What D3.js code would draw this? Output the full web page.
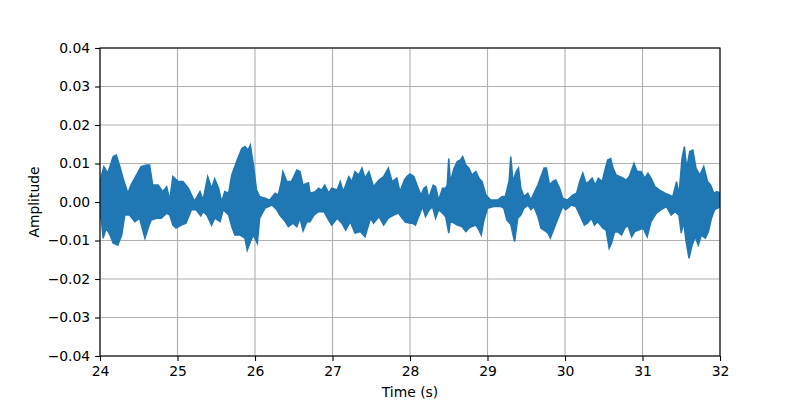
<!DOCTYPE html>
<html>
<head>
<meta charset="utf-8">
<script src="https://cdn.jsdelivr.net/npm/d3@7"></script>
<style>
  body { margin: 0; background: #fff; }
  text { font-family: "DejaVu Sans", sans-serif; }
</style>
</head>
<body>
<div id="chart"></div>
<script>
// envelope of the waveform: times (s) and amplitudes
var upperTime = [24.00, 24.02, 24.05, 24.10, 24.17, 24.21, 24.25, 24.30, 24.36, 24.40, 24.47, 24.53, 24.60, 24.64, 24.68, 24.75, 24.81, 24.86, 24.90, 24.94,
  25.01, 25.07, 25.14, 25.22, 25.29, 25.33, 25.39, 25.44, 25.48, 25.53, 25.57, 25.61, 25.66, 25.70, 25.74, 25.78, 25.83, 25.87, 25.91, 25.94, 25.98,
  26.02, 26.06, 26.13, 26.19, 26.26, 26.30, 26.34, 26.36, 26.41, 26.47, 26.54, 26.58, 26.62, 26.69, 26.71, 26.78, 26.82, 26.86, 26.90, 26.95, 26.99,
  27.06, 27.10, 27.14, 27.21, 27.25, 27.29, 27.34, 27.38, 27.42, 27.47, 27.53, 27.60, 27.66, 27.72, 27.77, 27.83, 27.87, 27.93, 27.96,
  28.00, 28.05, 28.09, 28.14, 28.18, 28.21, 28.24, 28.30, 28.33, 28.37, 28.42, 28.46, 28.48, 28.50, 28.52, 28.57, 28.61, 28.65, 28.68, 28.72, 28.76, 28.80, 28.85, 28.89, 28.93, 28.98,
  29.04, 29.13, 29.19, 29.23, 29.28, 29.30, 29.33, 29.37, 29.40, 29.43, 29.47, 29.52, 29.56, 29.60, 29.65, 29.69, 29.73, 29.76, 29.80, 29.84, 29.88, 29.93, 29.97,
  30.03, 30.10, 30.15, 30.19, 30.23, 30.27, 30.31, 30.35, 30.39, 30.43, 30.48, 30.51, 30.55, 30.59, 30.62, 30.66, 30.71, 30.75, 30.79, 30.83, 30.86, 30.89, 30.93, 30.98,
  31.03, 31.07, 31.11, 31.16, 31.22, 31.29, 31.35, 31.39, 31.44, 31.47, 31.51, 31.54, 31.57, 31.61, 31.65, 31.69, 31.74, 31.79, 31.84, 31.88, 31.92, 31.96, 32.00]
var upperAmp = [0.0050, 0.0070, 0.0092, 0.0075, 0.0118, 0.0122, 0.0096, 0.0060, 0.0023, 0.0044, 0.0070, 0.0092, 0.0096, 0.0096, 0.0044, 0.0044, 0.0027, 0.0040, 0.0005, 0.0066,
  0.0053, 0.0053, 0.0036, 0.0002, 0.0027, 0.0005, 0.0066, 0.0036, 0.0060, 0.0036, 0.0000, 0.0027, 0.0023, 0.0070, 0.0092, 0.0114, 0.0139, 0.0144, 0.0135, 0.0148, 0.0096,
  0.0031, 0.0014, 0.0010, 0.0005, 0.0023, 0.0018, 0.0053, 0.0079, 0.0053, 0.0053, 0.0083, 0.0079, 0.0044, 0.0050, 0.0023, 0.0027, 0.0036, 0.0031, 0.0044, 0.0023, 0.0036,
  0.0031, 0.0053, 0.0027, 0.0066, 0.0053, 0.0079, 0.0070, 0.0088, 0.0062, 0.0079, 0.0040, 0.0057, 0.0066, 0.0088, 0.0053, 0.0062, 0.0027, 0.0058, 0.0066,
  0.0073, 0.0066, 0.0044, 0.0018, 0.0036, 0.0040, 0.0010, 0.0044, 0.0040, 0.0005, 0.0036, 0.0036, 0.0044, 0.0113, 0.0053, 0.0088, 0.0105, 0.0109, 0.0118, 0.0096, 0.0088, 0.0070, 0.0079, 0.0062, 0.0053, 0.0018,
  0.0005, 0.0005, 0.0014, 0.0014, 0.0057, 0.0118, 0.0053, 0.0079, 0.0088, 0.0036, 0.0014, 0.0023, 0.0005, 0.0023, 0.0044, 0.0066, 0.0088, 0.0088, 0.0044, 0.0053, 0.0057, 0.0036, 0.0010,
  0.0005, 0.0018, 0.0023, 0.0053, 0.0075, 0.0049, 0.0053, 0.0062, 0.0044, 0.0062, 0.0053, 0.0079, 0.0109, 0.0113, 0.0088, 0.0070, 0.0066, 0.0062, 0.0057, 0.0066, 0.0083, 0.0100, 0.0079, 0.0079,
  0.0062, 0.0075, 0.0062, 0.0040, 0.0031, 0.0023, 0.0018, 0.0014, 0.0053, 0.0018, 0.0113, 0.0144, 0.0088, 0.0131, 0.0135, 0.0088, 0.0070, 0.0092, 0.0053, 0.0044, 0.0023, 0.0027, 0.0023]

var lowerTime = [24.00, 24.02, 24.04, 24.08, 24.13, 24.17, 24.23, 24.28, 24.32, 24.38, 24.45, 24.51, 24.58, 24.62, 24.66, 24.73, 24.79, 24.86, 24.90, 24.94, 24.98,
  25.05, 25.11, 25.18, 25.24, 25.30, 25.33, 25.38, 25.44, 25.48, 25.55, 25.59, 25.66, 25.70, 25.74, 25.81, 25.87, 25.90, 25.94, 25.98,
  26.03, 26.06, 26.13, 26.22, 26.28, 26.32, 26.39, 26.43, 26.49, 26.54, 26.58, 26.62, 26.67, 26.71, 26.76, 26.82, 26.89, 26.95, 26.99,
  27.06, 27.12, 27.17, 27.23, 27.29, 27.36, 27.42, 27.49, 27.53, 27.60, 27.66, 27.72, 27.79, 27.85, 27.90, 27.94,
  28.00, 28.03, 28.07, 28.12, 28.16, 28.20, 28.25, 28.29, 28.33, 28.37, 28.42, 28.46, 28.50, 28.52, 28.57, 28.61, 28.67, 28.72, 28.76, 28.80, 28.85, 28.89, 28.92, 28.95,
  29.00, 29.08, 29.17, 29.21, 29.25, 29.30, 29.33, 29.35, 29.39, 29.43, 29.47, 29.52, 29.56, 29.60, 29.65, 29.69, 29.73, 29.78, 29.81, 29.86, 29.91, 29.97,
  30.01, 30.08, 30.14, 30.21, 30.25, 30.29, 30.34, 30.38, 30.42, 30.49, 30.53, 30.57, 30.60, 30.64, 30.68, 30.73, 30.77, 30.81, 30.86, 30.90, 30.95,
  31.01, 31.06, 31.11, 31.18, 31.24, 31.31, 31.37, 31.42, 31.47, 31.50, 31.53, 31.56, 31.60, 31.64, 31.68, 31.72, 31.76, 31.81, 31.85, 31.89, 31.93, 31.97, 32.00]
var lowerAmp = [-0.0030, -0.0051, -0.0094, -0.0068, -0.0086, -0.0107, -0.0112, -0.0086, -0.0034, -0.0034, -0.0051, -0.0042, -0.0094, -0.0068, -0.0047, -0.0042, -0.0042, -0.0029, -0.0034, -0.0060, -0.0068,
  -0.0060, -0.0055, -0.0020, -0.0020, -0.0036, -0.0025, -0.0034, -0.0060, -0.0042, -0.0051, -0.0020, -0.0034, -0.0064, -0.0086, -0.0086, -0.0094, -0.0125, -0.0103, -0.0086,
  -0.0107, -0.0042, -0.0016, -0.0008, -0.0020, -0.0034, -0.0051, -0.0064, -0.0055, -0.0064, -0.0042, -0.0075, -0.0051, -0.0051, -0.0034, -0.0025, -0.0025, -0.0047, -0.0060,
  -0.0042, -0.0055, -0.0073, -0.0051, -0.0081, -0.0077, -0.0090, -0.0042, -0.0055, -0.0038, -0.0060, -0.0042, -0.0034, -0.0029, -0.0042, -0.0052,
  -0.0055, -0.0055, -0.0060, -0.0034, -0.0012, -0.0038, -0.0020, -0.0012, -0.0042, -0.0020, -0.0029, -0.0038, -0.0081, -0.0051, -0.0055, -0.0060, -0.0064, -0.0077, -0.0068, -0.0064, -0.0060, -0.0073, -0.0086, -0.0051,
  -0.0016, -0.0012, -0.0012, -0.0016, -0.0047, -0.0058, -0.0086, -0.0103, -0.0042, -0.0034, -0.0016, -0.0008, -0.0020, -0.0012, -0.0038, -0.0068, -0.0073, -0.0081, -0.0094, -0.0068, -0.0042, -0.0012,
  -0.0020, -0.0008, -0.0012, -0.0042, -0.0060, -0.0055, -0.0042, -0.0060, -0.0051, -0.0068, -0.0073, -0.0120, -0.0107, -0.0078, -0.0077, -0.0086, -0.0068, -0.0060, -0.0090, -0.0077, -0.0073,
  -0.0068, -0.0090, -0.0051, -0.0029, -0.0020, -0.0012, -0.0034, -0.0025, -0.0034, -0.0081, -0.0051, -0.0099, -0.0146, -0.0112, -0.0090, -0.0112, -0.0086, -0.0094, -0.0077, -0.0042, -0.0020, -0.0016, -0.0012]

var xTicks = [24, 25, 26, 27, 28, 29, 30, 31, 32]
var yTicks = [-0.04, -0.03, -0.02, -0.01, 0.00, 0.01, 0.02, 0.03, 0.04]

var margin = { top: 48, left: 100, right: 80, bottom: 44 },
  width = 800 - margin.left - margin.right,
  height = 400 - margin.top - margin.bottom;

var svg = d3.select("#chart")
  .append("svg")
  .attr("width", 800)
  .attr("height", 400)
  .append("g")
  .attr("transform", "translate(" + margin.left + "," + margin.top + ")");

var x = d3.scaleLinear().domain([24, 32]).range([0, width]);
var y = d3.scaleLinear().domain([-0.04, 0.04]).range([height, 0]);

// grid
svg.append("g").selectAll("line")
  .data(xTicks).enter().append("line")
  .attr("x1", function(d) { return x(d) }).attr("x2", function(d) { return x(d) })
  .attr("y1", 0).attr("y2", height)
  .attr("stroke", "#b0b0b0").attr("stroke-width", 1.1)
svg.append("g").selectAll("line")
  .data(yTicks).enter().append("line")
  .attr("y1", function(d) { return y(d) }).attr("y2", function(d) { return y(d) })
  .attr("x1", 0).attr("x2", width)
  .attr("stroke", "#b0b0b0").attr("stroke-width", 1.1)

svg.append("clipPath").attr("id", "clip")
  .append("rect").attr("width", width).attr("height", height)

// upper edge left to right, then lower edge back
var outline = upperTime.map(function(t, i) { return [t, upperAmp[i]] })
  .concat(lowerTime.map(function(t, i) { return [t, lowerAmp[i]] }).reverse())

var line = d3.line()
  .x(function(d) { return x(d[0]) })
  .y(function(d) { return y(d[1]) })

svg.append("path")
  .attr("clip-path", "url(#clip)")
  .attr("d", line(outline) + "Z")
  .attr("fill", "#1f77b4")
  .attr("stroke", "#1f77b4")
  .attr("stroke-width", 1.5)
  .attr("stroke-linejoin", "miter")

var xAxis = svg.append("g")
  .attr("transform", "translate(0," + height + ")")
  .call(d3.axisBottom(x).tickValues(xTicks).tickSize(4.9).tickPadding(4.9).tickFormat(d3.format("d")))
var yAxis = svg.append("g")
  .call(d3.axisLeft(y).tickValues(yTicks).tickSize(4.9).tickPadding(4.9).tickFormat(d3.format(".2f")))

svg.selectAll(".domain").remove()
svg.selectAll(".tick line").attr("stroke", "#000").attr("stroke-width", 1.1)
svg.selectAll(".tick text")
  .attr("font-family", "DejaVu Sans, sans-serif")
  .attr("font-size", "13.9px")
  .attr("fill", "#000")

svg.append("rect")
  .attr("width", width).attr("height", height)
  .attr("fill", "none").attr("stroke", "#000").attr("stroke-width", 1.1)

svg.append("text")
  .attr("x", width / 2).attr("y", height + 41)
  .attr("text-anchor", "middle")
  .attr("font-size", "13.9px")
  .text("Time (s)")

svg.append("text")
  .attr("transform", "translate(-61," + (height / 2) + ") rotate(-90)")
  .attr("text-anchor", "middle")
  .attr("font-size", "13.9px")
  .text("Amplitude")
</script>
</body>
</html>
